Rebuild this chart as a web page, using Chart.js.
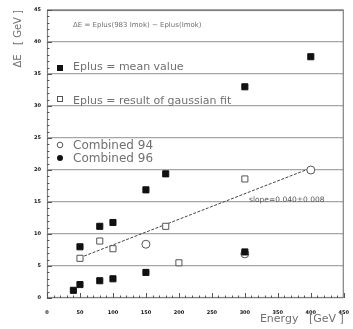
<!DOCTYPE html>
<html>
<head>
<meta charset="utf-8">
<script src="https://cdn.jsdelivr.net/npm/chart.js@4/dist/chart.umd.min.js"></script>
<style>
	html, body { margin: 0; padding: 0; background: #fff; }
	canvas { display: block; }
</style>
</head>
<body>
<canvas id="deltaChart" width="353" height="329"></canvas>
<script>
const meanEnergy = [40, 50, 50, 80, 80, 100, 100, 150, 150, 180, 300, 300, 400];
const meanDeltaE = [1.2, 2.1, 8.0, 2.7, 11.2, 3.0, 11.8, 4.0, 16.9, 19.4, 7.2, 33.0, 37.7];
const gaussEnergy = [50, 80, 100, 180, 200, 300];
const gaussDeltaE = [6.2, 8.9, 7.7, 11.2, 5.5, 18.6];
const combined94Energy = [150, 300, 400];
const combined94DeltaE = [8.4, 6.9, 20.0];
const fitEnergy = [50, 400];
const fitDeltaE = [6.3, 20.3];
const xTicks = [0, 50, 100, 150, 200, 250, 300, 350, 400, 450];
const yTicks = [0, 5, 10, 15, 20, 25, 30, 35, 40, 45];

(() => {
	'use strict'

	const fontFamily = '"DejaVu Sans", sans-serif';
	const textGray = '#707070';
	const lineGray = '#a6a6a6';

	function toPoints(xs, ys) {
		return xs.map((x, i) => ({ x: x, y: ys[i] }));
	}

	// frame, inner ticks, legend and notes, all placed from the chart area
	const decorations = {
		id: 'decorations',
		afterDatasetsDraw(chart) {
			const { ctx, chartArea: area, scales } = chart;
			ctx.save();
			ctx.strokeStyle = '#808080';
			ctx.lineWidth = 1.2;
			ctx.strokeRect(area.left + 0.5, area.top + 0.5, area.right - area.left - 1, area.bottom - area.top - 1);

			ctx.strokeStyle = '#555';
			ctx.lineWidth = 1;
			ctx.beginPath();
			for (let v = 0; v <= 450; v += 10) {
				const px = Math.round(scales.x.getPixelForValue(v)) + 0.5;
				const len = v % 50 === 0 ? 5 : 2.5;
				ctx.moveTo(px, area.bottom);
				ctx.lineTo(px, area.bottom - len);
			}
			for (let v = 0; v <= 45; v += 1) {
				const py = Math.round(scales.y.getPixelForValue(v)) + 0.5;
				const len = v % 5 === 0 ? 5 : 2.5;
				ctx.moveTo(area.left, py);
				ctx.lineTo(area.left + len, py);
			}
			ctx.stroke();

			const mx = area.left + 13;
			const tx = area.left + 26;
			ctx.fillStyle = textGray;
			ctx.textBaseline = 'middle';
			ctx.textAlign = 'left';

			ctx.font = '7px ' + fontFamily;
			ctx.fillText('\u0394E = Eplus(983 Imok) \u2212 Eplus(Imok)', tx, area.top + 15);

			ctx.font = '11px ' + fontFamily;
			ctx.fillText('Eplus = mean value', tx, area.top + 57);
			ctx.fillText('Eplus = result of gaussian fit', tx, area.top + 91);
			ctx.font = '12px ' + fontFamily;
			ctx.fillText('Combined 94', tx, area.top + 136);
			ctx.fillText('Combined 96', tx, area.top + 149);

			ctx.font = '7.5px ' + fontFamily;
			ctx.fillStyle = '#555';
			ctx.fillText('slope=0.040\u00b10.008', area.left + 202, area.top + 190);

			ctx.fillStyle = '#111';
			ctx.fillRect(mx - 3, area.top + 55, 6, 6);
			ctx.strokeStyle = '#555';
			ctx.strokeRect(mx - 2.5, area.top + 86.5, 5, 5);
			ctx.beginPath();
			ctx.arc(mx, area.top + 135, 2.8, 0, Math.PI * 2);
			ctx.stroke();
			ctx.beginPath();
			ctx.arc(mx, area.top + 148, 3, 0, Math.PI * 2);
			ctx.fill();

			ctx.font = '11px ' + fontFamily;
			ctx.fillStyle = textGray;
			ctx.textAlign = 'right';
			ctx.fillText('Energy   [GeV ]', area.right, 319);

			ctx.font = '10px ' + fontFamily;
			ctx.translate(18, area.top);
			ctx.rotate(-Math.PI / 2);
			ctx.textAlign = 'right';
			ctx.fillText('\u0394E   [ GeV ]', 0, 0);
			ctx.restore();
		}
	};

	new Chart(document.getElementById('deltaChart'), {
		type: 'scatter',
		data: {
			datasets: [
				{
					label: 'Eplus = mean value',
					data: toPoints(meanEnergy, meanDeltaE),
					pointStyle: 'rect',
					pointRadius: 4.3,
					backgroundColor: '#111',
					borderColor: '#111',
					borderWidth: 1,
					order: 1
				},
				{
					label: 'Eplus = result of gaussian fit',
					data: toPoints(gaussEnergy, gaussDeltaE),
					pointStyle: 'rect',
					pointRadius: 4.3,
					backgroundColor: '#fff',
					borderColor: '#555',
					borderWidth: 1,
					order: 2
				},
				{
					label: 'Combined 94',
					data: toPoints(combined94Energy, combined94DeltaE),
					pointStyle: 'circle',
					pointRadius: 4,
					backgroundColor: '#fff',
					borderColor: '#555',
					borderWidth: 1,
					order: 3
				},
				{
					label: 'Fit',
					type: 'line',
					data: toPoints(fitEnergy, fitDeltaE),
					showLine: true,
					borderColor: '#444',
					borderWidth: 1,
					borderDash: [3, 1.5],
					pointRadius: 0,
					fill: false,
					order: 10
				}
			]
		},
		options: {
			responsive: false,
			animation: false,
			layout: {
				padding: { left: 0, right: 3, top: 10, bottom: 0 }
			},
			plugins: {
				legend: { display: false },
				tooltip: { enabled: false }
			},
			scales: {
				x: {
					type: 'linear',
					min: 0,
					max: 450,
					afterBuildTicks: (scale) => { scale.ticks = xTicks.map((v) => ({ value: v })); },
					afterFit: (scale) => { scale.height = 31; },
					grid: { display: false },
					border: { display: false },
					ticks: {
						font: { family: fontFamily, size: 5, weight: 'bold' },
						color: '#111',
						padding: 4,
						maxRotation: 0
					}
				},
				y: {
					min: 0,
					max: 45,
					afterBuildTicks: (scale) => { scale.ticks = yTicks.map((v) => ({ value: v })); },
					afterFit: (scale) => { scale.width = 47; },
					grid: { color: lineGray, lineWidth: 1.3, drawTicks: false },
					border: { display: false },
					ticks: {
						font: { family: fontFamily, size: 5, weight: 'bold' },
						color: '#111',
						padding: 6
					}
				}
			}
		},
		plugins: [decorations]
	});
})()
</script>
</body>
</html>
